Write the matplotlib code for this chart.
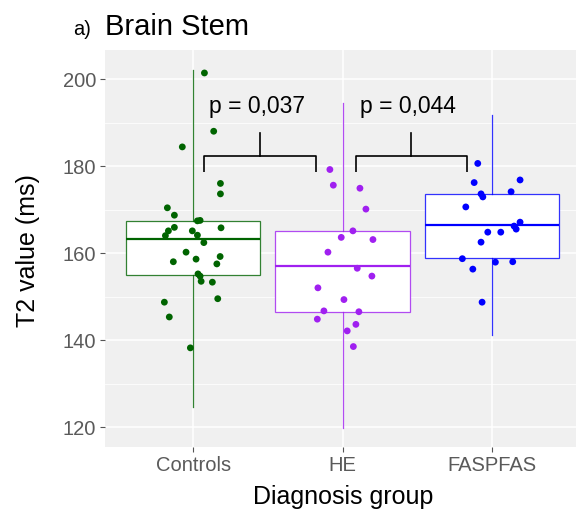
import matplotlib
matplotlib.use("Agg")
import matplotlib.pyplot as plt
from matplotlib.colors import to_rgba
from matplotlib.ticker import MultipleLocator

plt.rcParams['font.family'] = ['Liberation Sans', 'DejaVu Sans']

groups = ['Controls', 'HE', 'FASPFAS']
colors = ['#006400', '#A020F0', '#0000FF']

# box statistics per group: whisker low, q1, median, q3, whisker high
box_stats = {
    'Controls': (124.7, 155.0, 163.3, 167.4, 202.0),
    'HE': (119.7, 146.5, 157.0, 165.1, 194.6),
    'FASPFAS': (141.1, 158.8, 166.4, 173.5, 191.7),
}

# T2 values (ms) and horizontal jitter of each subject
controls_vals = [201.4, 188.0, 184.4, 176.0, 173.6, 170.4, 168.7, 167.4, 167.5, 165.9,
                 165.1, 164.0, 165.1, 164.1, 165.8, 162.4, 160.2, 158.6, 159.2, 158.0,
                 157.5, 155.2, 154.7, 153.5, 153.3, 148.7, 149.5, 145.3, 138.2]
controls_jit = [0.076, 0.138, -0.072, 0.183, 0.183, -0.172, -0.125, 0.029, 0.047, -0.125,
                -0.165, -0.185, -0.005, 0.029, 0.187, 0.072, -0.047, 0.020, 0.181, -0.132,
                0.159, 0.033, 0.047, 0.054, 0.129, -0.192, 0.165, -0.159, -0.018]

he_vals = [179.2, 175.6, 174.9, 170.1, 165.1, 163.6, 163.1, 160.2, 156.5, 154.7,
           152.0, 149.3, 146.7, 144.8, 146.5, 143.6, 142.1, 138.5]
he_jit = [-0.085, -0.062, 0.116, 0.156, 0.069, -0.009, 0.203, -0.098, 0.098, 0.196,
          -0.165, 0.009, -0.125, -0.169, 0.109, 0.089, 0.031, 0.072]

fas_vals = [180.6, 176.2, 176.8, 173.6, 172.9, 174.1, 170.6, 167.1, 166.2, 165.5,
            164.8, 164.8, 162.5, 158.7, 156.3, 157.9, 158.0, 148.7]
fas_jit = [-0.096, -0.120, 0.187, -0.074, -0.062, 0.127, -0.176, 0.187, 0.147, 0.161,
           -0.029, 0.058, -0.074, -0.199, -0.129, 0.022, 0.138, -0.067]

values = [controls_vals, he_vals, fas_vals]
jitters = [controls_jit, he_jit, fas_jit]

# comparison brackets: x start, x end, p label
brackets = [(1.074, 1.823, 'p = 0,037'), (2.09, 2.83, 'p = 0,044')]
br_y, br_drop, br_tip, lab_y = 182.3, 178.6, 187.6, 193.6

fig = plt.figure(figsize=(5.76, 5.18), dpi=100)
ax = fig.add_axes([0.1823, 0.1376, 0.8278, 0.7658])
ax.set_facecolor('#F0F0F0')
for s in ax.spines.values():
    s.set_visible(False)

for i, g in enumerate(groups):
    lo, q1, med, q3, hi = box_stats[g]
    st = dict(whislo=lo, q1=q1, med=med, q3=q3, whishi=hi, fliers=[])
    c = colors[i]
    lc = to_rgba(c, 0.8)
    ax.bxp([st], positions=[i + 1], widths=0.9, patch_artist=True, showcaps=False,
           manage_ticks=False,
           boxprops=dict(facecolor='white', edgecolor=lc, lw=0.9),
           whiskerprops=dict(color=lc, lw=0.9),
           medianprops=dict(color=c, lw=1.6),
           zorder=2)
    xs = [i + 1 + j for j in jitters[i]]
    ax.scatter(xs, values[i], s=24, color=c, edgecolors='none', zorder=3)

for x0, x1, lab in brackets:
    xm = (x0 + x1) / 2
    ax.plot([x0, x0, x1, x1], [br_drop, br_y, br_y, br_drop], color='black', lw=1.2,
            zorder=4, solid_capstyle='butt')
    ax.plot([xm, xm], [br_y, br_tip], color='black', lw=1.2, zorder=4)
    ax.text(xm - 0.02, lab_y, lab, ha='center', va='center', fontsize=16.5, color='black')

ax.set_xlim(0.411, 3.6)
ax.set_ylim(115.47, 206.67)
ax.yaxis.set_major_locator(MultipleLocator(20))
ax.yaxis.set_minor_locator(MultipleLocator(10))
ax.set_xticks([1, 2, 3])
ax.set_xticklabels(groups)
ax.grid(which='major', color='white', lw=1.1, zorder=0)
ax.grid(which='minor', axis='y', color='white', lw=0.55, zorder=0)
ax.set_axisbelow(True)
ax.tick_params(which='major', length=3.5, width=0.8, color='#555555',
               labelcolor='#5a5a5a', labelsize=14.5, pad=3)
ax.tick_params(which='minor', length=0)

fig.text(343 / 576, 1 - 497 / 518, 'Diagnosis group', ha='center', va='center', fontsize=18)
fig.text(28 / 576, 1 - 251 / 518, 'T2 value (ms)', ha='center', va='center',
         rotation=90, fontsize=18)
fig.text(73 / 576, 1 - 35 / 518, 'a)', ha='left', va='baseline', fontsize=14.5)
fig.text(105 / 576, 1 - 35 / 518, 'Brain Stem', ha='left', va='baseline', fontsize=21)

fig.savefig('out.png', dpi=100)
